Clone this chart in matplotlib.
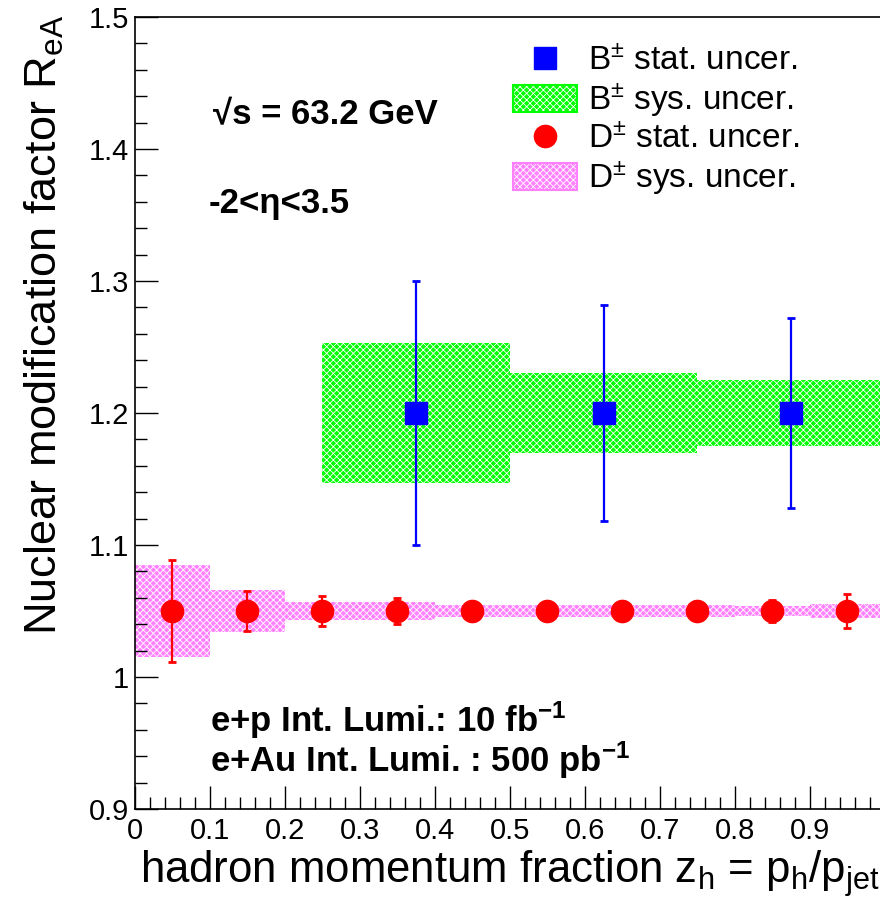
import matplotlib
matplotlib.use("Agg")
import matplotlib.pyplot as plt
from matplotlib.patches import Rectangle, Patch
from matplotlib.lines import Line2D
from matplotlib.ticker import MultipleLocator, FuncFormatter
from matplotlib.legend_handler import HandlerTuple

FACE = 'Liberation Sans'
plt.rcParams['font.family'] = [FACE, 'DejaVu Sans']
plt.rcParams['mathtext.fontset'] = 'custom'
plt.rcParams['mathtext.rm'] = FACE
plt.rcParams['mathtext.it'] = FACE
plt.rcParams['mathtext.bf'] = FACE + ':bold'
plt.rcParams['hatch.color'] = 'white'
plt.rcParams['hatch.linewidth'] = 0.6

# B meson R_eA: bins 0.25-0.5, 0.5-0.75, 0.75-1.0
b_edges = [0.25, 0.5, 0.75, 1.0]
b_vals = [1.2, 1.2, 1.2]
b_stat = [0.100, 0.082, 0.072]
b_sys = [0.053, 0.030, 0.025]

# D meson R_eA: ten bins of width 0.1
d_edges = [0.0, 0.1, 0.2, 0.3, 0.4, 0.5, 0.6, 0.7, 0.8, 0.9, 1.0]
d_vals = [1.05, 1.05, 1.05, 1.05, 1.05, 1.05, 1.05, 1.05, 1.05, 1.05]
d_stat = [0.039, 0.015, 0.0115, 0.0098, 0.007, 0.006, 0.006, 0.007, 0.008, 0.0127]
d_sys = [0.035, 0.016, 0.007, 0.007, 0.0045, 0.0042, 0.0042, 0.0042, 0.004, 0.005]

x_ticks = [0.0, 0.1, 0.2, 0.3, 0.4, 0.5, 0.6, 0.7, 0.8, 0.9]
y_ticks = [0.9, 1.0, 1.1, 1.2, 1.3, 1.4, 1.5]

GREEN = '#00ff00'
PINK = '#ff80ff'
BLUE = '#0000ff'
RED = '#ff0000'

fig = plt.figure(figsize=(8.8, 9.14), dpi=100)
W, H = 880, 914
x0, x1, ytop, ybot = 134.5, 885.0, 17.0, 809.0
ax = fig.add_axes([x0 / W, 1 - ybot / H, (x1 - x0) / W, (ybot - ytop) / H])
ax.set_xlim(0, 1)
ax.set_ylim(0.9, 1.5)


def sys_boxes(edges, vals, errs, color):
    for lo, hi, v, e in zip(edges[:-1], edges[1:], vals, errs):
        ax.add_patch(Rectangle((lo, v - e), hi - lo, 2 * e, facecolor=color,
                               hatch='xxxxx', linewidth=0, zorder=1))


sys_boxes(b_edges, b_vals, b_sys, GREEN)
sys_boxes(d_edges, d_vals, d_sys, PINK)

b_x = [(lo + hi) / 2 for lo, hi in zip(b_edges[:-1], b_edges[1:])]
d_x = [(lo + hi) / 2 for lo, hi in zip(d_edges[:-1], d_edges[1:])]

ax.errorbar(b_x, b_vals, yerr=b_stat, fmt='s', color=BLUE, ms=16,
            elinewidth=1.6, capsize=3.0, capthick=2.0, zorder=3)
ax.errorbar(d_x, d_vals, yerr=d_stat, fmt='o', color=RED, ms=16,
            elinewidth=1.6, capsize=3.0, capthick=2.0, zorder=3)

# axes styling
for side in ['left', 'bottom', 'top', 'right']:
    ax.spines[side].set_linewidth(1.2)
ax.xaxis.set_minor_locator(MultipleLocator(0.02))
ax.yaxis.set_minor_locator(MultipleLocator(0.02))
ax.set_xticks(x_ticks)
ax.set_yticks(y_ticks)
fmt = FuncFormatter(lambda v, p: '%g' % round(v, 3))
ax.xaxis.set_major_formatter(fmt)
ax.yaxis.set_major_formatter(fmt)
ax.tick_params(which='major', direction='in', length=16.5, width=1.0,
               labelsize=21, top=False, right=False)
ax.tick_params(which='minor', direction='in', length=8.5, width=1.0,
               top=False, right=False)
ax.tick_params(axis='x', pad=6)
ax.tick_params(axis='y', pad=4)

ax.set_xlabel(r'hadron momentum fraction z$_{\mathregular{h}}$ = p$_{\mathregular{h}}$/p$_{\mathregular{jet}}$',
              fontsize=31.5, ha='left', va='baseline')
ax.xaxis.set_label_coords(0.007, -0.0934)
ax.set_ylabel(r'Nuclear modification factor R$_{\mathregular{eA}}$',
              fontsize=32.5, ha='right', va='baseline')
ax.yaxis.set_label_coords(-0.1035, 1.0025)

# annotations
ax.text(0.1046, 1.419, '\u221as = 63.2 GeV', fontsize=25, fontweight='bold',
        ha='left', va='baseline')
ax.text(0.0993, 1.3515, '-2<\u03b7<3.5', fontsize=25, fontweight='bold',
        ha='left', va='baseline')
ax.text(0.1006, 0.9583, r'e+p Int. Lumi.: 10 fb$^{\mathbf{-1}}$', fontsize=25,
        fontweight='bold', ha='left', va='baseline')
ax.text(0.1006, 0.9285, r'e+Au Int. Lumi. : 500 pb$^{\mathbf{-1}}$', fontsize=25,
        fontweight='bold', ha='left', va='baseline')

# legend
h_bstat = Line2D([], [], marker='s', color=BLUE, ms=16, linestyle='none')
h_bsys = (Patch(facecolor=GREEN, hatch='xxxxx', linewidth=0),
          Patch(facecolor='none', edgecolor=GREEN, linewidth=1.5))
h_dstat = Line2D([], [], marker='o', color=RED, ms=16, linestyle='none')
h_dsys = (Patch(facecolor=PINK, hatch='xxxxx', linewidth=0),
          Patch(facecolor='none', edgecolor=PINK, linewidth=1.5))
labels = [r'B$^{\pm}$ stat. uncer.', r'B$^{\pm}$ sys. uncer.',
          r'D$^{\pm}$ stat. uncer.', r'D$^{\pm}$ sys. uncer.']
leg = fig.legend([h_bstat, h_bsys, h_dstat, h_dsys], labels,
                 loc='upper left', bbox_to_anchor=(513 / W, 1 - 45 / H),
                 frameon=False, fontsize=24, handlelength=1.92,
                 handleheight=0.9, handletextpad=0.33, labelspacing=0.12,
                 borderpad=0, borderaxespad=0,
                 handler_map={tuple: HandlerTuple(ndivide=1, pad=0)})

fig.savefig('out.png', dpi=100)
